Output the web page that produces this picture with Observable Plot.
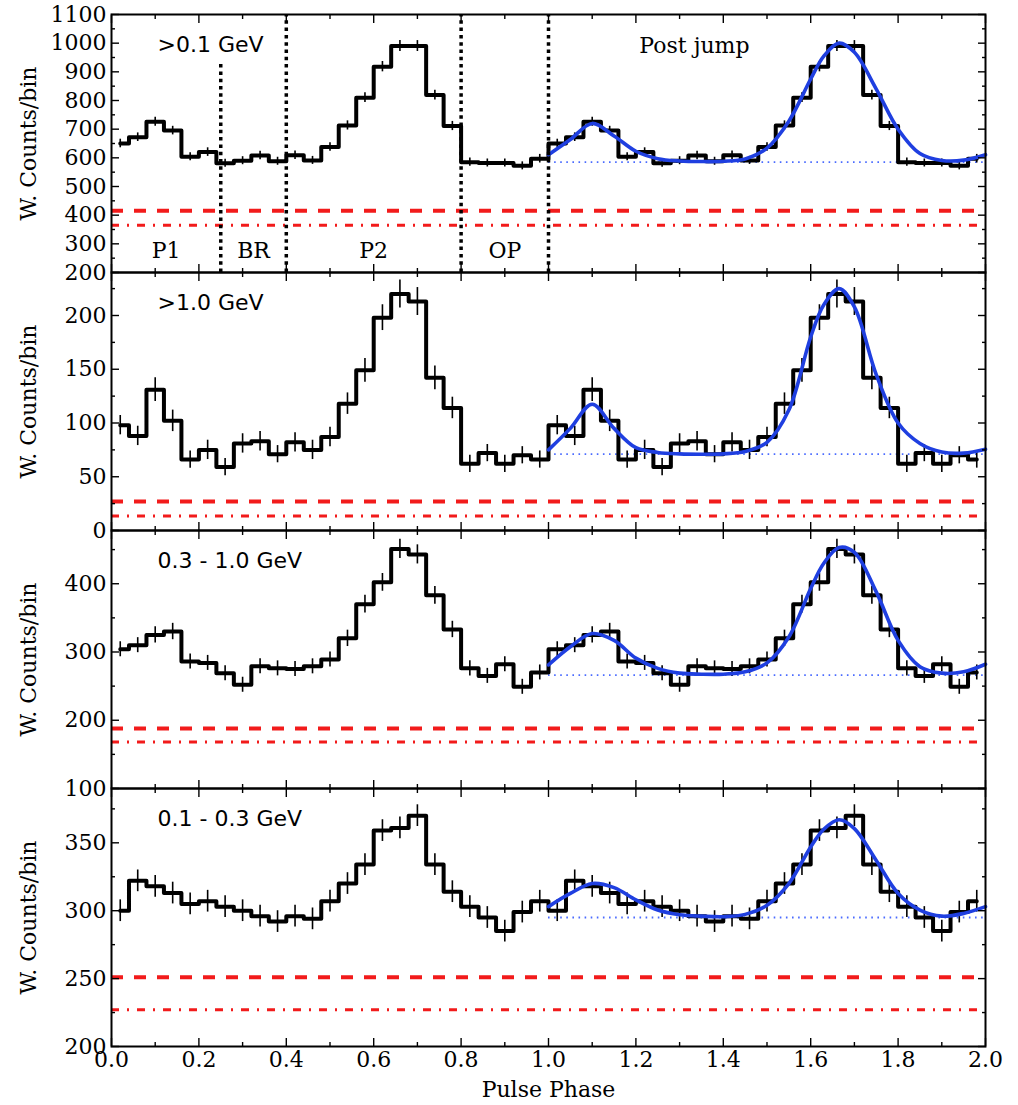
<!DOCTYPE html>
<html><head><meta charset="utf-8">
<script src="https://cdn.jsdelivr.net/npm/d3@7"></script>
<script src="https://cdn.jsdelivr.net/npm/@observablehq/plot@0.6"></script>
<style>
html,body{margin:0;padding:0;background:#fff;}
#chart{position:relative;width:1018px;height:1105px;overflow:hidden;background:#fff;}
#chart svg{position:absolute;left:0;overflow:visible;}
</style></head><body><div id="chart"></div>
<script>
// ---- data ----
const binPhase = [0.02,0.06,0.10,0.14,0.18,0.22,0.26,0.30,0.34,0.38,0.42,0.46,0.50,0.54,0.58,0.62,0.66,0.70,0.74,0.78,0.82,0.86,0.90,0.94,0.98];
const bandLabels = [">0.1 GeV", ">1.0 GeV", "0.3 - 1.0 GeV", "0.1 - 0.3 GeV"];
const countsAll  = [650,672,726,695,604,620,581,590,608,588,609,591,638,713,810,918,990,990,819,711,585,582,582,572,597];
const errorsAll  = [15,15,16,15,14,15,14,14,15,14,15,14,15,16,17,18,19,19,17,16,14,14,14,14,15];
const countsHigh = [98,88,131,102,66,75,59,81,83,71,82,75,87,118,149,198,220,213,142,114,62,72,62,70,66];
const errorsHigh = [9,9,11,10,8,9,8,9,9,8,9,9,9,10,11,12,13,13,11,10,8,8,8,8,8];
const countsMid  = [304,310,325,330,286,284,269,252,279,276,275,279,289,320,370,402,451,443,383,333,276,265,282,249,270];
const errorsMid  = [11,11,12,12,11,11,11,11,11,11,11,11,11,12,13,13,14,14,13,12,11,11,11,11,11];
const countsLow  = [300,322,318,313,305,307,303,300,296,292,296,294,307,320,334,359,361,370,334,314,303,295,285,299,307];
const errorsLow  = [8,8,8,8,8,8,8,8,8,8,8,8,8,8,8,8,8,8,8,8,8,8,8,8,8];

// fitted two-peak model, phase 1-2
const fitPhase = [1.00,1.05,1.10,1.15,1.20,1.25,1.30,1.35,1.40,1.45,1.50,1.55,1.60,1.63,1.665,1.70,1.75,1.80,1.85,1.90,1.95,2.00];
const fitAll  = [611,664,720,676,623,597,589,587,588,596,634,728,875,955,1000,968,840,700,615,591,592,611];
const fitHigh = [75,95,117.5,95,77,72.6,71.3,71,71.3,73.5,82,112,180,210,225,208,145,100,81,73,72,75.6];
const fitMid  = [281,307.7,327,317,291,276,269,267.5,267.5,271,284,322,393,430,453,446,388,317,278.5,269,271,282];
const fitLow  = [303,312.7,320,317,308,300.5,297,296,295.6,297.3,304,320,347,360,367,360.5,337,312.7,300.5,296,298,303];

const fitBaseline   = [585, 71, 266, 295];
const dashedLevel   = [415, 27, 188, 251];
const dashDotLevel  = [365, 13.5, 168, 227];

const yDomains = [[200,1100],[0,240],[100,478],[200,390]];
const yMajor = [[200,300,400,500,600,700,800,900,1000,1100],[0,50,100,150,200],[100,200,300,400],[200,250,300,350]];
const yMinor = [[250,350,450,550,650,750,850,950,1050],[25,75,125,175,225],[150,250,350,450],[225,275,325,375]];
const xMajor = [0,0.2,0.4,0.6,0.8,1.0,1.2,1.4,1.6,1.8,2.0];
const xMinor = [0.1,0.3,0.5,0.7,0.9,1.1,1.3,1.5,1.7,1.9];

const regionCuts = [0.25,0.4,0.8,1.0];
const regionCutTop = [935,1100,1100,1100];
const regionNames = ["P1","BR","P2","OP"];
const regionMid = [0.125,0.325,0.6,0.9];

const counts = [countsAll, countsHigh, countsMid, countsLow];
const errors = [errorsAll, errorsHigh, errorsMid, errorsLow];
const fits = [fitAll, fitHigh, fitMid, fitLow];

// ---- drawing ----
const panelTop = [14, 272, 530, 788];
const panelH = 258;
const serif = "DejaVu Serif";
const sans = "DejaVu Sans";
const FS = 22;
const chart = document.getElementById("chart");

for (let i = 0; i < 4; i++) {
  const last = i === 3;
  const mt = 14, mb = last ? 62 : 14;
  const rows = [];
  for (let c = 0; c < 2; c++) binPhase.forEach((p, j) => rows.push({phase: p + c, w: counts[i][j], e: errors[i][j]}));
  const fit = fitPhase.map((p, j) => ({phase: p, w: fits[i][j]}));
  const tickStyle = {stroke: "black", strokeWidth: 1.4, fill: "none", label: null};
  const marks = [
    Plot.ruleY([dashedLevel[i]], {stroke: "#f21b1b", strokeWidth: 4, strokeDasharray: "12,11"}),
    Plot.ruleY([dashDotLevel[i]], {stroke: "#f21b1b", strokeWidth: 3, strokeDasharray: "8,8,2,8"}),
    Plot.ruleY([fitBaseline[i]], {x1: 1, x2: 2, stroke: "#4a6bff", strokeWidth: 1.8, strokeDasharray: "1.6,4.5"}),
    Plot.line(rows, {x: "phase", y: "w", curve: "step", stroke: "black", strokeWidth: 4}),
    Plot.ruleX(rows, {x: "phase", y1: d => d.w - d.e, y2: d => d.w + d.e, stroke: "black", strokeWidth: 1.6}),
    Plot.line(fit, {x: "phase", y: "w", curve: "catmull-rom", stroke: "#1f3fe0", strokeWidth: 3.6}),
    Plot.text([bandLabels[i]], {frameAnchor: "top-left", dx: 46, dy: 30, lineAnchor: "middle", textAnchor: "start", fontFamily: sans, fontSize: FS}),
    Plot.text(["W. Counts/bin"], {frameAnchor: "left", dx: -83, rotate: -90, textAnchor: "middle", lineAnchor: "middle", fontFamily: serif, fontSize: FS}),
    // ticks (inward)
    Plot.axisY(yMajor[i], {anchor: "left", tickSize: 8, dx: 8, ...tickStyle}),
    Plot.axisY(yMajor[i], {anchor: "right", tickSize: 8, dx: -8, ...tickStyle}),
    Plot.axisY(yMinor[i], {anchor: "left", tickSize: 4, dx: 4, ...tickStyle}),
    Plot.axisY(yMinor[i], {anchor: "right", tickSize: 4, dx: -4, ...tickStyle}),
    Plot.axisX(xMajor, {anchor: "bottom", tickSize: 8, dy: -8, ...tickStyle}),
    Plot.axisX(xMajor, {anchor: "top", tickSize: 8, dy: 8, ...tickStyle}),
    Plot.axisX(xMinor, {anchor: "bottom", tickSize: 4, dy: -4, ...tickStyle}),
    Plot.axisX(xMinor, {anchor: "top", tickSize: 4, dy: 4, ...tickStyle}),
    // y tick labels
    Plot.text(yMajor[i], {y: d => d, text: d => String(d), frameAnchor: "left", textAnchor: "end", lineAnchor: "middle", dx: -5, fontFamily: serif, fontSize: FS}),
    Plot.frame({stroke: "black", strokeWidth: 2})
  ];
  if (i === 0) {
    const cuts = regionCuts.map((x, j) => ({x, top: regionCutTop[j]}));
    marks.push(
      Plot.ruleX(cuts, {x: "x", y1: yDomains[0][0], y2: "top", stroke: "black", strokeWidth: 3.5, strokeDasharray: "3.5,3.8"}),
      Plot.text(regionNames, {x: (d, j) => regionMid[j], frameAnchor: "bottom", dy: -22, lineAnchor: "middle", fontFamily: serif, fontSize: FS}),
      Plot.text(["Post jump"], {x: 1.334, frameAnchor: "top", dy: 31, lineAnchor: "middle", fontFamily: serif, fontSize: FS})
    );
  }
  if (last) {
    marks.push(
      Plot.text(xMajor, {x: d => d, text: d => d.toFixed(1), frameAnchor: "bottom", lineAnchor: "top", dy: 5, fontFamily: serif, fontSize: FS}),
      Plot.text(["Pulse Phase"], {frameAnchor: "bottom", dy: 43, lineAnchor: "middle", fontFamily: serif, fontSize: FS})
    );
  }
  const svg = Plot.plot({
    width: 1018,
    height: panelH + mt + mb,
    marginLeft: 111, marginRight: 33, marginTop: mt, marginBottom: mb,
    x: {domain: [0, 2]},
    y: {domain: yDomains[i]},
    style: {fontFamily: serif, fontSize: "22px", background: "transparent", overflow: "visible", color: "black"},
    marks
  });
  svg.style.top = (panelTop[i] - mt) + "px";
  chart.appendChild(svg);
}
</script>
</body></html>
